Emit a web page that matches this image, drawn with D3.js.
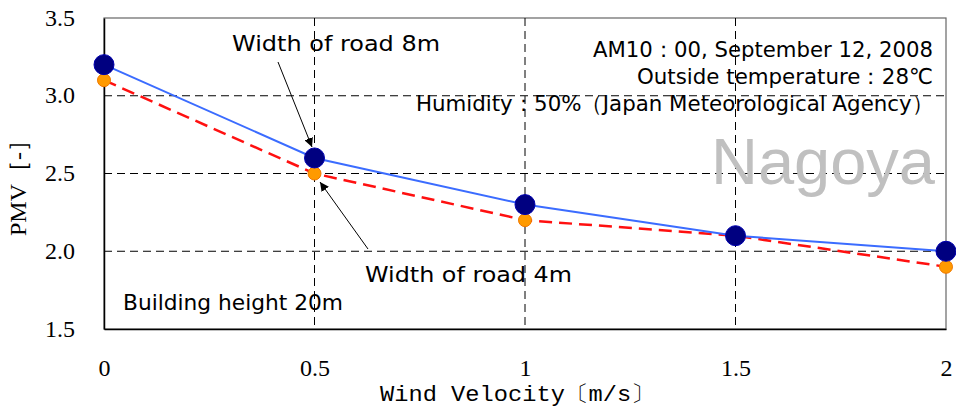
<!DOCTYPE html>
<html>
<head>
<meta charset="utf-8">
<script src="https://cdn.jsdelivr.net/npm/d3@7"></script>
<style>
body { margin: 0; background: #fff; }
.tick text { font-family: "Liberation Serif", serif; font-size: 24px; fill: #000; }
.note { font-family: "DejaVu Sans", sans-serif; font-size: 22px; fill: #000; }
</style>
</head>
<body>
<div id="chart"></div>
<script>
var velocity = [0, 0.5, 1, 1.5, 2];
var road8m = [3.2, 2.6, 2.3, 2.1, 2.0];
var road4m = [3.1, 2.5, 2.2, 2.1, 1.9];
var xTicks = [0, 0.5, 1, 1.5, 2];
var yTicks = [1.5, 2.0, 2.5, 3.0, 3.5];
var info = ["AM10：00, September 12, 2008", "Outside temperature：28℃", "Humidity：50%（Japan Meteorological Agency）"];
var infoWidth = [340, 296, 517];

var margin = {top: 18, right: 10, bottom: 79, left: 104};
var width = 956 - margin.left - margin.right;
var height = 408 - margin.top - margin.bottom;

var svg = d3.select("#chart").append("svg")
    .attr("width", 956)
    .attr("height", 408)
  .append("g")
    .attr("transform", "translate(" + margin.left + "," + margin.top + ")");

var x = d3.scaleLinear().domain([0, 2]).range([0, 842]);
var y = d3.scaleLinear().domain([1.5, 3.5]).range([height, 0]);

svg.append("defs").append("marker")
    .attr("id", "arrow")
    .attr("viewBox", "0 0 10 10")
    .attr("refX", 10).attr("refY", 5)
    .attr("markerWidth", 9).attr("markerHeight", 9)
    .attr("markerUnits", "userSpaceOnUse")
    .attr("orient", "auto")
  .append("path")
    .attr("d", "M0,0L10,5L0,10z")
    .attr("fill", "#000");

// frame
svg.append("rect")
    .attr("x", 0).attr("y", 0)
    .attr("width", x(2)).attr("height", height)
    .attr("fill", "none")
    .attr("stroke", "#666")
    .attr("stroke-width", 1.2);

// grid
svg.selectAll(".vgrid")
    .data(xTicks.filter(function (d) { return d > 0 && d < 2; }))
    .enter().append("line")
    .attr("x1", function (d) { return x(d); })
    .attr("x2", function (d) { return x(d); })
    .attr("y1", 0).attr("y2", height)
    .attr("stroke", "#000")
    .attr("stroke-dasharray", "8,5");
svg.selectAll(".hgrid")
    .data(yTicks.filter(function (d) { return d > 1.5 && d < 3.5; }))
    .enter().append("line")
    .attr("y1", function (d) { return y(d); })
    .attr("y2", function (d) { return y(d); })
    .attr("x1", 0).attr("x2", x(2))
    .attr("stroke", "#000")
    .attr("stroke-dasharray", "8,5");

// axes
svg.append("g")
    .attr("transform", "translate(0," + height + ")")
    .call(d3.axisBottom(x).tickValues(xTicks).tickSize(0).tickPadding(30)
        .tickFormat(function (d) { return d3.format("")(d); }))
    .call(function (g) { g.select(".domain").attr("stroke", "#000").attr("stroke-width", 1.5); });
svg.append("g")
    .call(d3.axisLeft(y).tickValues(yTicks).tickSize(0).tickPadding(29)
        .tickFormat(d3.format(".1f")))
    .call(function (g) { g.select(".domain").attr("stroke", "#000").attr("stroke-width", 1.5); })
    .selectAll(".tick text").attr("dy", "0.3em");

// lines
var line = function (vals) {
    return d3.line()
        .x(function (d, i) { return x(velocity[i]); })
        .y(function (d) { return y(d); })(vals);
};
svg.append("path")
    .attr("d", line(road4m))
    .attr("fill", "none")
    .attr("stroke", "#ff1010")
    .attr("stroke-width", 2.5)
    .attr("stroke-dasharray", "13,7");
svg.append("path")
    .attr("d", line(road8m))
    .attr("fill", "none")
    .attr("stroke", "#3b6cff")
    .attr("stroke-width", 2);

svg.selectAll(".dot4")
    .data(road4m)
    .enter().append("circle")
    .attr("r", 6.5)
    .attr("cx", function (d, i) { return x(velocity[i]); })
    .attr("cy", function (d) { return y(d); })
    .attr("fill", "#ff9a00")
    .attr("stroke", "#f07800")
    .attr("stroke-width", 1);
svg.selectAll(".dot8")
    .data(road8m)
    .enter().append("circle")
    .attr("r", 10)
    .attr("cx", function (d, i) { return x(velocity[i]); })
    .attr("cy", function (d) { return y(d); })
    .attr("fill", "#000080")
    .attr("stroke", "#0000b0")
    .attr("stroke-width", 1);

// annotation arrows
svg.append("line")
    .attr("x1", 174).attr("y1", 44)
    .attr("x2", 208).attr("y2", 129)
    .attr("stroke", "#000").attr("stroke-width", 1)
    .attr("marker-end", "url(#arrow)");
svg.append("line")
    .attr("x1", 264).attr("y1", 231)
    .attr("x2", 216).attr("y2", 164)
    .attr("stroke", "#000").attr("stroke-width", 1)
    .attr("marker-end", "url(#arrow)");

svg.append("text").attr("class", "note")
    .attr("x", 128).attr("y", 33)
    .attr("textLength", 208).attr("lengthAdjust", "spacingAndGlyphs")
    .text("Width of road 8m");
svg.append("text").attr("class", "note")
    .attr("x", 261).attr("y", 264)
    .attr("textLength", 207).attr("lengthAdjust", "spacingAndGlyphs")
    .text("Width of road 4m");
svg.append("text").attr("class", "note")
    .attr("x", 19).attr("y", 292)
    .attr("textLength", 220).attr("lengthAdjust", "spacingAndGlyphs")
    .text("Building height 20m");

svg.selectAll(".info")
    .data(info)
    .enter().append("text")
    .attr("class", "note")
    .attr("text-anchor", "end")
    .attr("x", 829)
    .attr("y", function (d, i) { return 39 + i * 27; })
    .attr("textLength", function (d, i) { return infoWidth[i]; })
    .attr("lengthAdjust", "spacingAndGlyphs")
    .text(function (d) { return d; });

svg.append("text")
    .attr("x", 831).attr("y", 166)
    .attr("text-anchor", "end")
    .attr("font-family", "Liberation Sans, Arial, sans-serif")
    .attr("font-size", 65)
    .attr("fill", "#c0c0c0")
    .text("Nagoya");

// axis titles
svg.append("text")
    .attr("x", 276).attr("y", height + 72)
    .attr("font-family", "Liberation Mono, monospace")
    .attr("font-size", 22)
    .attr("textLength", 275).attr("lengthAdjust", "spacingAndGlyphs")
    .text("Wind Velocity〔m/s〕");
svg.append("text")
    .attr("transform", "translate(-78," + 164 + ") rotate(-90)")
    .attr("text-anchor", "middle")
    .attr("font-family", "Liberation Serif, serif")
    .attr("font-size", 24)
    .text("PMV［-］");
</script>
</body>
</html>
